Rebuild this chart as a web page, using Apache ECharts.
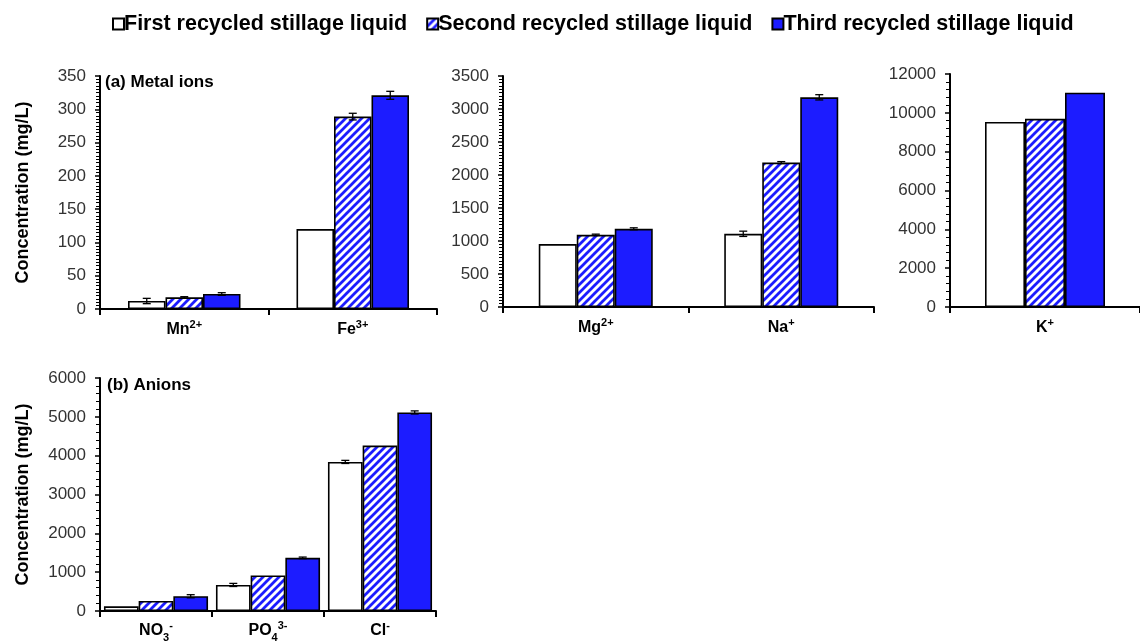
<!DOCTYPE html>
<html>
<head>
<meta charset="utf-8">
<script src="https://cdn.jsdelivr.net/npm/echarts@6/dist/echarts.min.js"></script>
<style>
  html, body { margin: 0; padding: 0; background: #fff; }
  #chart { width: 1140px; height: 643px; }
</style>
</head>
<body>
<div id="chart"></div>
<script>
// Stillage liquid composition, mg/L
const seriesNames = ['First recycled stillage liquid', 'Second recycled stillage liquid', 'Third recycled stillage liquid'];

// (a) metal ions, left panel
const catsA = ['Mn{sup|2+}', 'Fe{sup|3+}'];
const firstA = [12, 120];
const secondA = [17.5, 289];
const thirdA = [22.5, 321];
const errFirstA = [4, 0];
const errSecondA = [1, 5];
const errThirdA = [2, 6];
const ticksA = { max: 350, interval: 50 };

// (a) metal ions, middle panel
const catsB = ['Mg{sup|2+}', 'Na{sup|+}'];
const firstB = [953, 1109];
const secondB = [1094, 2188];
const thirdB = [1185, 3177];
const errFirstB = [0, 40];
const errSecondB = [10, 15];
const errThirdB = [15, 40];
const ticksB = { max: 3500, interval: 500 };

// (a) metal ions, right panel
const catsC = ['K{sup|+}'];
const firstC = [9530];
const secondC = [9690];
const thirdC = [11040];
const errFirstC = [0];
const errSecondC = [0];
const errThirdC = [0];
const ticksC = { max: 12000, interval: 2000 };

// (b) anions
const catsD = ['NO{sub|3}{sup|-}', 'PO{sub|4}{sup|3-}', 'Cl{sup|-}'];
const firstD = [121, 671, 3839];
const secondD = [258, 914, 4261];
const thirdD = [380, 1369, 5113];
const errFirstD = [0, 40, 40];
const errSecondD = [0, 0, 0];
const errThirdD = [40, 20, 40];
const ticksD = { max: 6000, interval: 1000 };

const FONT = 'Liberation Sans, Arial, Helvetica, sans-serif';
const BLUE = '#1c1cff';

// diagonal blue hatch on white
function hatchPattern() {
  const s = 8;
  const c = document.createElement('canvas');
  c.width = s; c.height = s;
  const g = c.getContext('2d');
  g.fillStyle = '#fff';
  g.fillRect(0, 0, s, s);
  g.strokeStyle = BLUE;
  g.lineWidth = 2.8;
  g.beginPath();
  g.moveTo(-2, s + 2); g.lineTo(s + 2, -2);
  g.moveTo(-2, 2); g.lineTo(2, -2);
  g.moveTo(s - 2, s + 2); g.lineTo(s + 2, s - 2);
  g.stroke();
  return c;
}
const hatch = { image: hatchPattern(), repeat: 'repeat' };

const fills = ['#ffffff', hatch, BLUE];

const panels = [
  { cats: catsA, vals: [firstA, secondA, thirdA], errs: [errFirstA, errSecondA, errThirdA], ticks: ticksA,
    grid: { left: 100, top: 76, width: 337, height: 233 }, barW: 37.5, minorSplit: 10, yName: 'Concentration (mg/L)', labelMargin: 10 },
  { cats: catsB, vals: [firstB, secondB, thirdB], errs: [errFirstB, errSecondB, errThirdB], ticks: ticksB,
    grid: { left: 503, top: 76, width: 371, height: 231 }, barW: 38, minorSplit: 10, yName: '', labelMargin: 10 },
  { cats: catsC, vals: [firstC, secondC, thirdC], errs: [errFirstC, errSecondC, errThirdC], ticks: ticksC,
    grid: { left: 950, top: 74, width: 196, height: 233 }, barW: 40, minorSplit: 5, yName: '', labelMargin: 10 },
  { cats: catsD, vals: [firstD, secondD, thirdD], errs: [errFirstD, errSecondD, errThirdD], ticks: ticksD,
    grid: { left: 100, top: 378, width: 336, height: 233 }, barW: 34.7, minorSplit: 5, yName: 'Concentration (mg/L)', labelMargin: 9 }
];

const richCat = {
  b: { fontFamily: FONT, fontSize: 16, fontWeight: 'bold', color: '#000', padding: [3, 0, 4, 0], verticalAlign: 'top' },
  sup: { fontFamily: FONT, fontSize: 11, fontWeight: 'bold', color: '#000', verticalAlign: 'top' },
  sub: { fontFamily: FONT, fontSize: 11, fontWeight: 'bold', color: '#000', verticalAlign: 'bottom' }
};

const grids = [], xAxes = [], yAxes = [], series = [];

panels.forEach((p, i) => {
  grids.push(Object.assign({ containLabel: false }, p.grid));
  xAxes.push({
    type: 'category', gridIndex: i,
    data: p.cats.map(c => c.replace(/^([A-Za-z]+)/, '{b|$1}')),
    axisLine: { lineStyle: { color: '#000', width: 2 } },
    axisTick: { show: true, length: 6, lineStyle: { color: '#000', width: 2 } },
    axisLabel: { margin: p.labelMargin, rich: richCat, color: '#000', interval: 0 },
    splitLine: { show: false }
  });
  yAxes.push({
    type: 'value', gridIndex: i, min: 0, max: p.ticks.max, interval: p.ticks.interval,
    name: p.yName, nameLocation: 'middle', nameGap: 68, nameRotate: 90,
    nameTextStyle: { fontFamily: FONT, fontSize: 18, fontWeight: 'bold', color: '#000' },
    axisLine: { show: true, lineStyle: { color: '#000', width: 2 } },
    axisTick: { show: true, length: 5, lineStyle: { color: '#000', width: 1.5 } },
    minorTick: { show: true, splitNumber: p.minorSplit, length: 4, lineStyle: { color: '#000', width: 1 } },
    axisLabel: { fontFamily: FONT, fontSize: 17, color: '#333', margin: 14, formatter: v => String(v) },
    splitLine: { show: false }
  });
  p.vals.forEach((vals, k) => {
    series.push({
      name: seriesNames[k], type: 'bar', xAxisIndex: i, yAxisIndex: i,
      data: vals, barWidth: p.barW, barGap: '0%',
      itemStyle: { color: fills[k], borderColor: '#000', borderWidth: 1.6 },
      emphasis: { disabled: true }
    });
  });
  // error bars for each of the three bars in a category
  p.vals.forEach((vals, k) => {
    const data = vals.map((v, c) => [c, v, p.errs[k][c]]);
    const barW = p.barW;
    series.push({
      name: 'err-' + i + '-' + k, type: 'custom', xAxisIndex: i, yAxisIndex: i, z: 10,
      data: data,
      renderItem: function (params, api) {
        const err = api.value(2);
        if (!err) return null;
        const cat = api.value(0), v = api.value(1);
        const top = api.coord([cat, v + err]);
        const bot = api.coord([cat, v - err]);
        const x = top[0] + (k - 1) * barW;
        const half = 4;
        const st = { stroke: '#000', lineWidth: 1.3 };
        return {
          type: 'group',
          children: [
            { type: 'line', shape: { x1: x, y1: top[1], x2: x, y2: bot[1] }, style: st },
            { type: 'line', shape: { x1: x - half, y1: top[1], x2: x + half, y2: top[1] }, style: st },
            { type: 'line', shape: { x1: x - half, y1: bot[1], x2: x + half, y2: bot[1] }, style: st }
          ]
        };
      }
    });
  });
});

const chart = echarts.init(document.getElementById('chart'), null, { renderer: 'canvas' });
chart.setOption({
  animation: false,
  backgroundColor: '#fff',
  legend: {
    data: seriesNames, left: 107, top: 8,
    itemWidth: 11, itemHeight: 11, itemGap: 19,
    icon: 'rect',
    textStyle: { fontFamily: FONT, fontSize: 21.5, fontWeight: 'bold', color: '#000', padding: [0, 0, 0, -5] },
    selectedMode: false
  },
  graphic: [
    { type: 'text', x: 105, y: 82, style: { text: '(a) Metal ions', font: 'bold 17px ' + FONT, fill: '#000', verticalAlign: 'middle' } },
    { type: 'text', x: 107, y: 385, style: { text: '(b) Anions', font: 'bold 17px ' + FONT, fill: '#000', verticalAlign: 'middle' } }
  ],
  grid: grids,
  xAxis: xAxes,
  yAxis: yAxes,
  series: series
});
</script>
</body>
</html>
